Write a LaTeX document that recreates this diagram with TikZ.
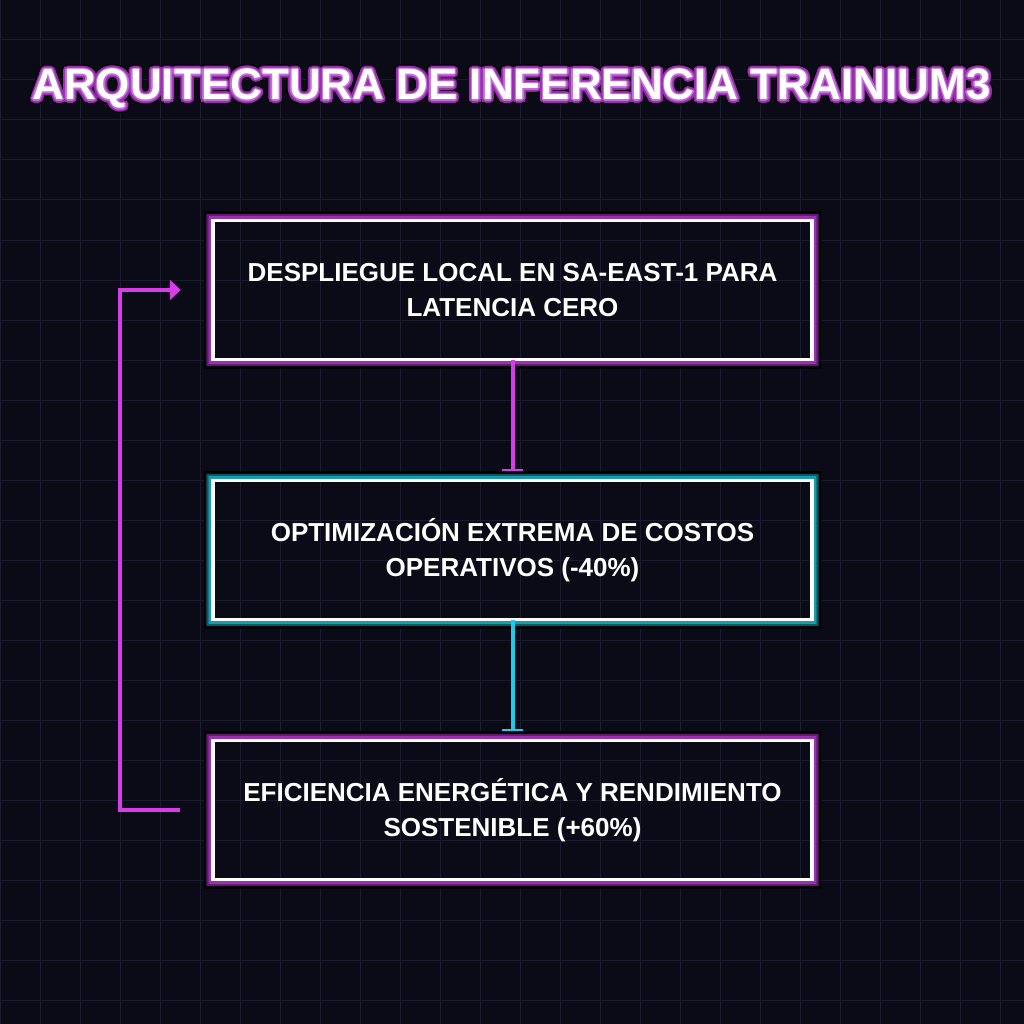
\documentclass[tikz,border=0pt]{standalone}
\usepackage{fontspec}
\setmainfont{Liberation Sans}
\usetikzlibrary{arrows.meta,calc}
\definecolor{bg}{HTML}{0B0B18}
\definecolor{gridc}{HTML}{1B1B2E}
\definecolor{mag}{HTML}{D63CE8}
\definecolor{cya}{HTML}{1ECBE8}
\definecolor{pA}{HTML}{9B30B0}
\definecolor{pB}{HTML}{5A1C6A}
\definecolor{cA}{HTML}{1A9CAE}
\definecolor{cB}{HTML}{0E5560}
\definecolor{tglow}{HTML}{9A2EAE}
\definecolor{tglowlt}{HTML}{C070D8}
\newcommand\glowframe[3]{%
 \fill[black,even odd rule] ($(#1.north west)+(-9,-9)$) rectangle ($(#1.south east)+(9,9)$) ($(#1.north west)+(-6.5,-6.5)$) rectangle ($(#1.south east)+(6.5,6.5)$);
 \fill[#3,even odd rule] ($(#1.north west)+(-6.5,-6.5)$) rectangle ($(#1.south east)+(6.5,6.5)$) ($(#1.north west)+(-4.5,-4.5)$) rectangle ($(#1.south east)+(4.5,4.5)$);
 \fill[#2,even odd rule] ($(#1.north west)+(-4.5,-4.5)$) rectangle ($(#1.south east)+(4.5,4.5)$) ($(#1.north west)+(-1.5,-1.5)$) rectangle ($(#1.south east)+(1.5,1.5)$);
 \draw[white,line width=3.5pt] (#1.north west) rectangle (#1.south east);
}
\newcommand\ttltext{ARQUITECTURA DE INFERENCIA TRAINIUM3}
\begin{document}
\begin{tikzpicture}[x=1pt,y=-1pt,
  gridline/.style={draw=gridc,line width=1pt},
  box/.style={minimum width=599pt,minimum height=139pt,inner sep=0pt,align=center,text=white,
    font=\bfseries\fontsize{26}{35}\selectfont},
  ttl/.style={anchor=base,inner sep=0pt,font=\bfseries\fontsize{44}{50}\selectfont},
  conn/.style={line width=4pt,-{Bar[width=21pt,line width=2.5pt]},shorten >=9pt},
  loopc/.style={draw=mag,line width=4pt,-{Triangle[length=11pt,width=20pt]}}]
\useasboundingbox (0,0) rectangle (1024,1024);
\fill[bg] (0,0) rectangle (1024,1024);
\foreach \i in {0,40,...,1000} {
  \draw[gridline] (\i,0) -- (\i,1024);
  \draw[gridline] (0,\i) -- (1024,\i);
}
% title with outline
\coordinate (tpos) at (511.5,100);
\foreach \a in {0,22.5,...,337.5} \node[ttl,text=black] at ($(tpos)+(\a:4.5)$) {\ttltext};
\foreach \a in {0,22.5,...,337.5} \node[ttl,text=tglow] at ($(tpos)+(\a:3.2)$) {\ttltext};
\foreach \a in {0,45,...,315} \node[ttl,text=tglowlt] at ($(tpos)+(\a:1.4)$) {\ttltext};
\node[ttl,text=white] (title) at (tpos) {\ttltext};
% boxes
\node[box] (b1) at (512.5,290) {DESPLIEGUE LOCAL EN SA-EAST-1 PARA\\LATENCIA CERO};
\node[box] (b2) at (512.5,550) {OPTIMIZACIÓN EXTREMA DE COSTOS\\OPERATIVOS (-40\%)};
\node[box] (b3) at (512.5,810) {EFICIENCIA ENERGÉTICA Y RENDIMIENTO\\SOSTENIBLE (+60\%)};
\glowframe{b1}{pA}{pB}
\glowframe{b2}{cA}{cB}
\glowframe{b3}{pA}{pB}
% connectors
\draw[conn,draw=mag] (b1.south) -- (b2.north);
\draw[conn,draw=cya] (b2.south) -- (b3.north);
\coordinate (la) at ($(b3.west)+(-33,0)$);
\coordinate (lb) at ($(b1.west)+(-32,0)$);
\draw[loopc] (la) -- ++(-60,0) |- (lb);
\end{tikzpicture}
\end{document}
